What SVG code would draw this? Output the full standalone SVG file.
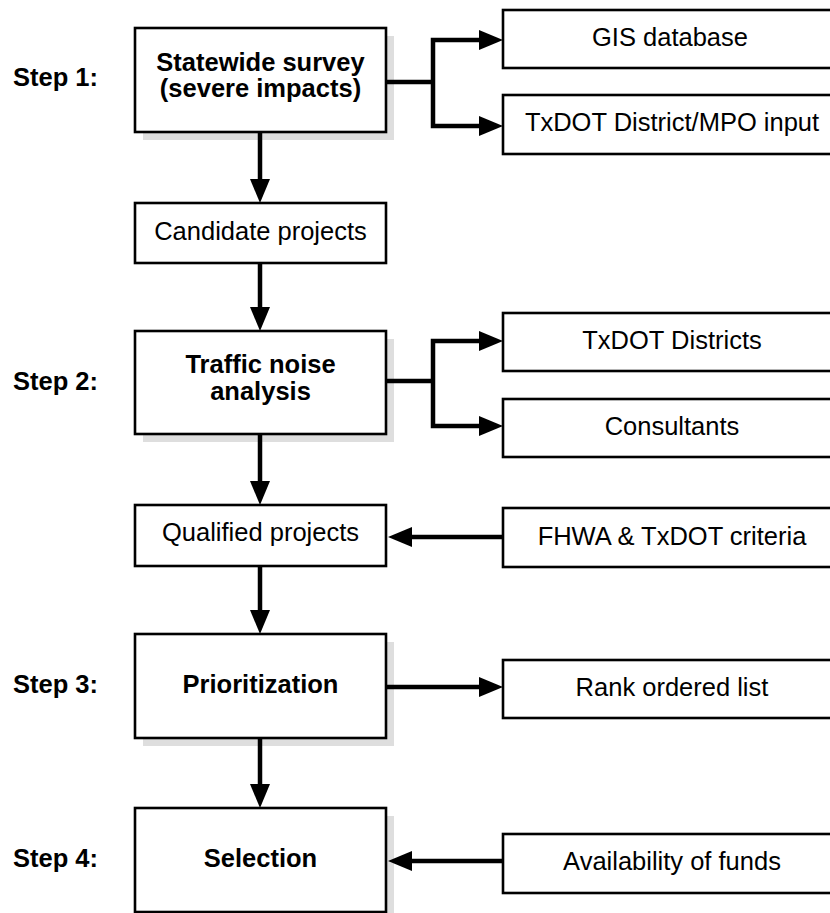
<svg xmlns="http://www.w3.org/2000/svg" width="830" height="913" viewBox="0 0 830 913">
<defs>
<style>
.box{fill:#fff;stroke:#000;stroke-width:2.6}
.shadow{fill:#dedede;stroke:none}
.t{font-family:"Liberation Sans",Arial,sans-serif;font-size:25.5px;fill:#000;text-anchor:middle}
.b{font-weight:bold}
.step{font-family:"Liberation Sans",Arial,sans-serif;font-size:25.5px;font-weight:bold;fill:#000}
.c{fill:none;stroke:#000;stroke-width:4.5;stroke-linejoin:miter}
</style>
<marker id="ah" markerUnits="userSpaceOnUse" markerWidth="26" markerHeight="22" refX="0" refY="10" orient="auto">
<path d="M0,0 L24,10 L0,20 Z" fill="#000"/>
</marker>
</defs>
<rect width="830" height="913" fill="#fff"/>

<g id="steps">
<text class="step" x="13" y="86">Step 1:</text>
<text class="step" x="13" y="390">Step 2:</text>
<text class="step" x="13" y="693">Step 3:</text>
<text class="step" x="13" y="867">Step 4:</text>
</g>

<g id="n-survey">
<rect class="shadow" x="143" y="36" width="251" height="104"/>
<rect class="box" x="135" y="28" width="251" height="104"/>
<text class="t b" x="260.5" y="71">Statewide survey</text>
<text class="t b" x="260.5" y="97">(severe impacts)</text>
</g>
<g id="n-candidate">
<rect class="box" x="135" y="203" width="251" height="60"/>
<text class="t" x="260.5" y="240">Candidate projects</text>
</g>
<g id="n-traffic">
<rect class="shadow" x="143" y="339" width="251" height="103"/>
<rect class="box" x="135" y="331" width="251" height="103"/>
<text class="t b" x="260.5" y="373">Traffic noise</text>
<text class="t b" x="260.5" y="400">analysis</text>
</g>
<g id="n-qualified">
<rect class="box" x="135" y="505" width="251" height="61"/>
<text class="t" x="260.5" y="541">Qualified projects</text>
</g>
<g id="n-prior">
<rect class="shadow" x="143" y="642" width="251" height="104"/>
<rect class="box" x="135" y="634" width="251" height="104"/>
<text class="t b" x="260.5" y="693">Prioritization</text>
</g>
<g id="n-selection">
<rect class="shadow" x="143" y="816" width="251" height="104"/>
<rect class="box" x="135" y="808" width="251" height="104"/>
<text class="t b" x="260.5" y="867">Selection</text>
</g>

<g id="n-gis">
<rect class="box" x="503" y="10" width="338" height="58"/>
<text class="t" x="670" y="46">GIS database</text>
</g>
<g id="n-mpo">
<rect class="box" x="503" y="95" width="338" height="59"/>
<text class="t" x="672" y="131">TxDOT District/MPO input</text>
</g>
<g id="n-districts">
<rect class="box" x="503" y="313" width="338" height="58"/>
<text class="t" x="672" y="349">TxDOT Districts</text>
</g>
<g id="n-consultants">
<rect class="box" x="503" y="399" width="338" height="58"/>
<text class="t" x="672" y="435">Consultants</text>
</g>
<g id="n-fhwa">
<rect class="box" x="503" y="508" width="338" height="59"/>
<text class="t" x="672" y="545">FHWA &amp; TxDOT criteria</text>
</g>
<g id="n-rank">
<rect class="box" x="503" y="660" width="338" height="58"/>
<text class="t" x="672" y="696">Rank ordered list</text>
</g>
<g id="n-funds">
<rect class="box" x="503" y="834" width="338" height="59"/>
<text class="t" x="672" y="870">Availability of funds</text>
</g>

<g id="connectors">
<path class="c" d="M260,133 V179" marker-end="url(#ah)"/>
<path class="c" d="M260,264 V307" marker-end="url(#ah)"/>
<path class="c" d="M260,435 V481" marker-end="url(#ah)"/>
<path class="c" d="M260,567 V610" marker-end="url(#ah)"/>
<path class="c" d="M260,739 V784" marker-end="url(#ah)"/>
<path class="c" d="M387,82 H433"/>
<path class="c" d="M433,82 V40 H479" marker-end="url(#ah)"/>
<path class="c" d="M433,82 V126 H479" marker-end="url(#ah)"/>
<path class="c" d="M387,381 H433"/>
<path class="c" d="M433,381 V341 H479" marker-end="url(#ah)"/>
<path class="c" d="M433,381 V426 H479" marker-end="url(#ah)"/>
<path class="c" d="M387,687 H479" marker-end="url(#ah)"/>
<path class="c" d="M502,537 H412" marker-end="url(#ah)"/>
<path class="c" d="M502,861 H412" marker-end="url(#ah)"/>
</g>
</svg>
